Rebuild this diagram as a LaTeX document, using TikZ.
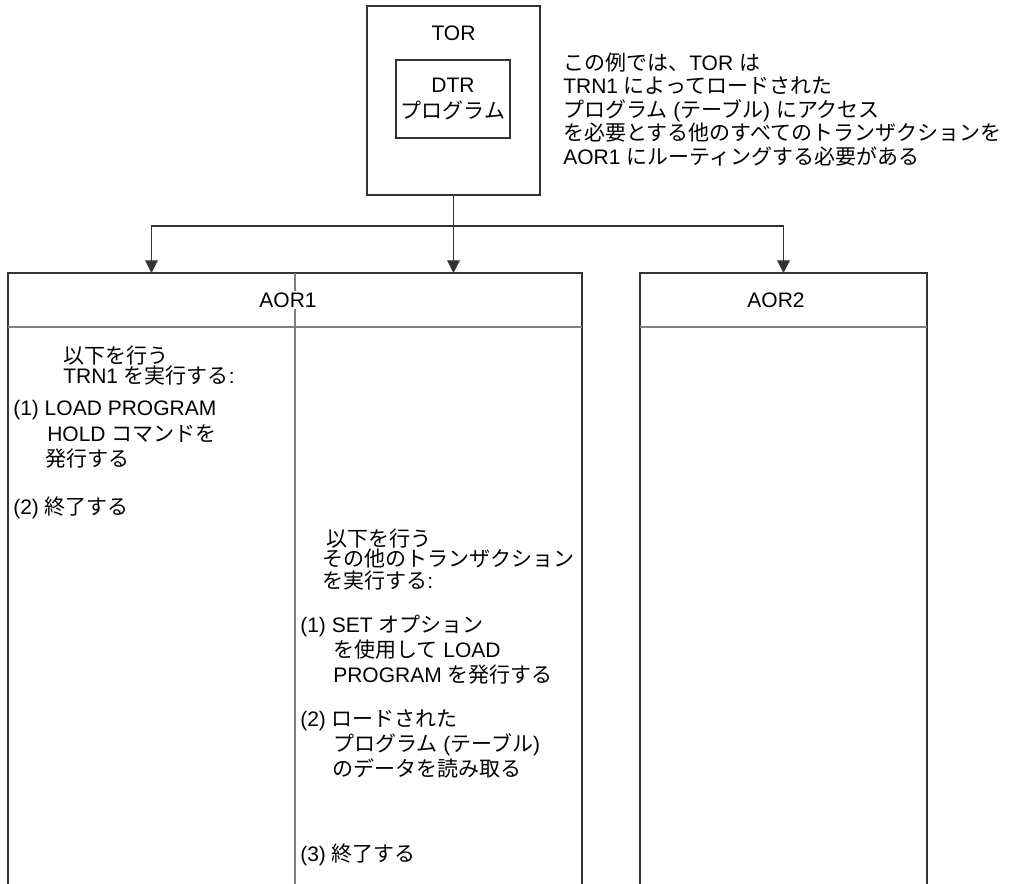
\documentclass[tikz,border=0pt]{standalone}
\usepackage{fontspec}
\setmainfont{Liberation Sans}
\newfontfamily\jfont{Noto Sans CJK JP}
\newcommand{\J}[1]{{\jfont #1}}
\usetikzlibrary{arrows.meta}
\tikzset{
	box/.style={draw=black!80,line width=1pt},
	sep/.style={draw=black!50,line width=1pt},
	txt/.style={anchor=west,inner sep=0pt,text height=11pt,text depth=0pt,
		font=\fontsize{15.75pt}{18pt}\selectfont},
	arr/.style={draw=black!80,line width=0.9pt,-{Triangle[width=9.5pt,length=9.5pt]}},
}

\begin{document}
\begin{tikzpicture}[x=0.75pt,y=-0.75pt]
	\useasboundingbox (0,0) rectangle (1009,884);
	% TOR and its DTR program
	\node[box,minimum width=129.75pt,minimum height=141.75pt] (tor) at (453.5,100.5) {};
	\node[txt,anchor=center] (torlabel) at (453.5,33) {TOR};
	\node[box,align=center,minimum width=85.5pt,minimum height=58.5pt,inner sep=0pt,
	font=\fontsize{15.75pt}{19.5pt}\selectfont] (dtr) at (453,99) {DTR\\\J{プログラム}};
	\node[txt] (note1) at (563,63) {\J{この例では、}TOR \J{は}};
	\node[txt] (note2) at (563,86.5) {TRN1 \J{によってロードされた}};
	\node[txt] (note3) at (563,110) {\J{プログラム} (\J{テーブル}) \J{にアクセス}};
	\node[txt] (note4) at (563,133.5) {\J{を必要とする他のすべてのトランザクションを}};
	\node[txt] (note5) at (563,157) {AOR1 \J{にルーティングする必要がある}};
	% regions
	\draw[box] (8,884) -- (8,273) -- (582,273) -- (582,884);
	\draw[sep] (8,327) -- (582,327);
	\draw[sep] (295,273) -- (295,884);
	\node[txt,anchor=center,fill=white,inner sep=1pt] (aor1) at (288,300) {AOR1};
	\draw[box] (640,884) -- (640,273) -- (927,273) -- (927,884);
	\draw[sep] (640,327) -- (927,327);
	\node[txt,anchor=center] (aor2) at (776,300) {AOR2};
	\coordinate (aor1in) at (151.5,273);
	\coordinate (aor2in) at (783.5,273);
	\coordinate (bus) at (453.5,226);
	% routing
	\draw[arr] (tor.south) -- (tor.south |- aor1in);
	\draw[arr] (bus) -| (aor1in);
	\draw[arr] (bus) -| (aor2in);
	% TRN1 column
	\node[txt] (trna) at (63,356) {\J{以下を行う}};
	\node[txt] (trnb) at (63,376) {TRN1 \J{を実行する}:};
	\node[txt] (trnc) at (13,408) {(1) LOAD PROGRAM};
	\node[txt] (trnd) at (47,434) {HOLD \J{コマンドを}};
	\node[txt] (trne) at (45,459) {\J{発行する}};
	\node[txt] (trnf) at (13,507) {(2) \J{終了する}};
	% other transactions column
	\node[txt] (otha) at (326,539) {\J{以下を行う}};
	\node[txt] (othb) at (322,559) {\J{その他のトランザクション}};
	\node[txt] (othc) at (322,581) {\J{を実行する}:};
	\node[txt] (othd) at (300,625) {(1) SET \J{オプション}};
	\node[txt] (othe) at (333,650) {\J{を使用して} LOAD};
	\node[txt] (othf) at (333,675) {PROGRAM \J{を発行する}};
	\node[txt] (othg) at (300,719) {(2) \J{ロードされた}};
	\node[txt] (othh) at (333,744) {\J{プログラム} (\J{テーブル})};
	\node[txt] (othi) at (332,769) {\J{のデータを読み取る}};
	\node[txt] (othj) at (300,854) {(3) \J{終了する}};
\end{tikzpicture}
\end{document}
